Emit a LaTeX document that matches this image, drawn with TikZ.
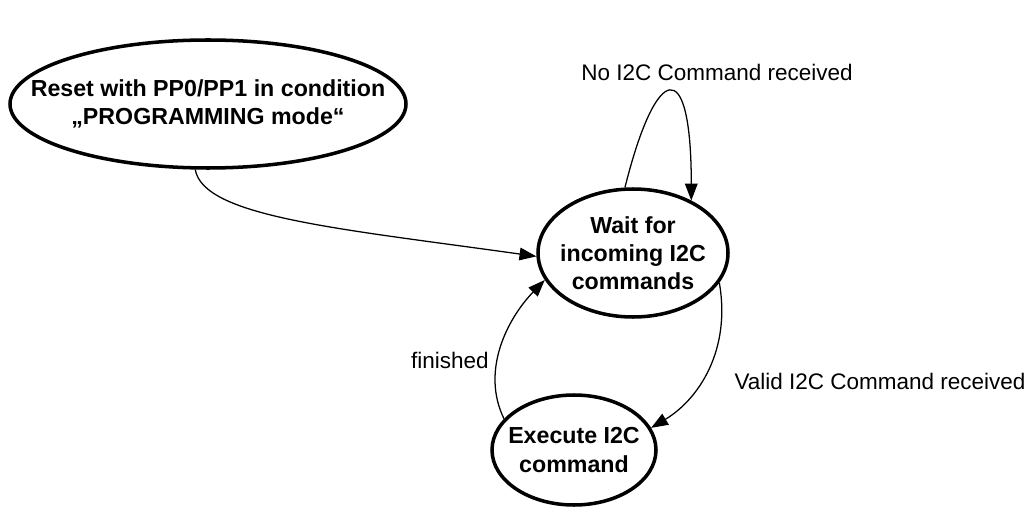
\documentclass[tikz,border=0pt]{standalone}
\usepackage{fontspec}
\setmainfont{Liberation Sans}
\usetikzlibrary{shapes.geometric, arrows.meta}
\tikzstyle{state} = [ellipse, text centered, align=center, draw=black, line width=2.5pt, inner xsep=-1cm, inner ysep=2pt, font=\bfseries\fontsize{16.5}{20}\selectfont]
\tikzstyle{trans} = [font=\fontsize{16}{19}\selectfont]
\tikzstyle{arrow} = [line width=0.9pt, -{Triangle[length=12pt, width=9pt]}]

\begin{document}
\begin{tikzpicture}[node distance=2cm]
\useasboundingbox (0,0) rectangle (25.8,-12.85);

\node (reset) [state, minimum width=9.9cm, minimum height=3.2cm] at (5.2,-2.6) {Reset with PP0/PP1 in condition\\„PROGRAMMING mode“};
\node (wait) [state, minimum width=4.75cm, minimum height=3.2cm, right of=reset, xshift=8.625cm, yshift=-3.725cm] {Wait for\\incoming I2C\\commands};
\node (execute) [state, minimum width=4.1cm, minimum height=2.75cm, below of=wait, xshift=-1.475cm, yshift=-2.925cm] {Execute I2C\\command};

\node (noreceived) [trans, above of=wait, xshift=2.1cm, yshift=2.525cm] {No I2C Command received};
\node (validreceived) [trans, right of=wait, xshift=4.175cm, yshift=-3.2cm] {Valid I2C Command received};
\node (finished) [trans, left of=execute, xshift=-1.1cm, yshift=2.25cm] {finished};

\draw [arrow] (reset.259) .. controls +(-80:1.2cm) and +(172:5cm) .. (wait.182);
\draw [arrow] (wait.97) .. controls +(76:3.2cm) and +(90:3.7cm) .. (wait.42);
\draw [arrow] (wait.-19) .. controls +(-80:1.7cm) and +(31:1.4cm) .. (execute.16);
\draw [arrow] (execute.156) .. controls +(116:1.33cm) and +(-134:1.36cm) .. (wait.197);
\end{tikzpicture}
\end{document}
